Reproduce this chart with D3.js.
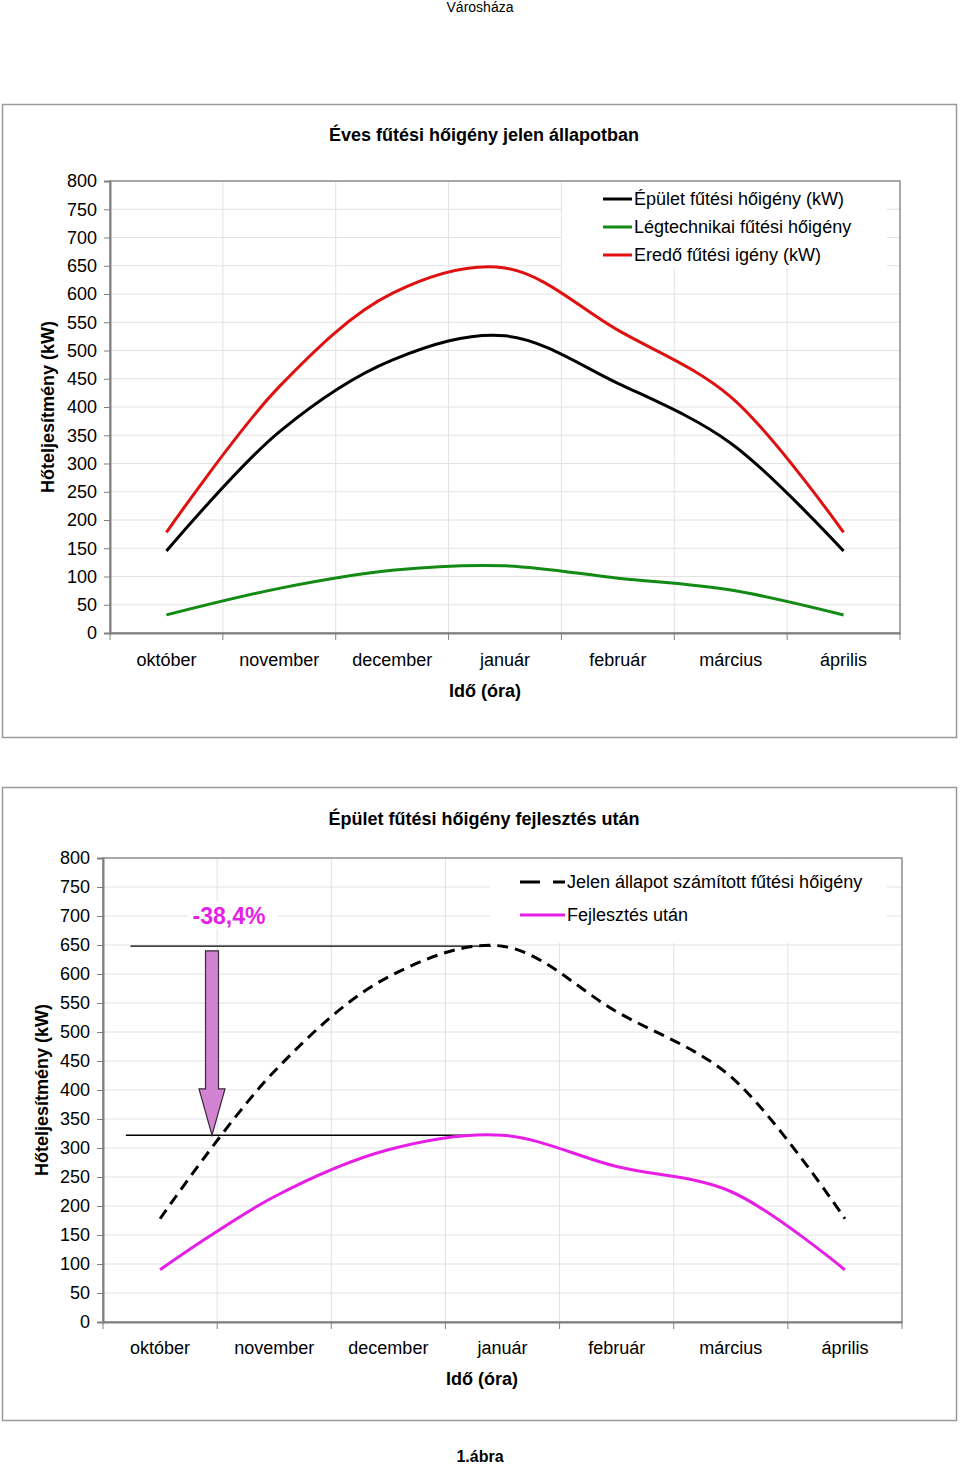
<!DOCTYPE html>
<html><head><meta charset="utf-8">
<script src="https://cdn.jsdelivr.net/npm/d3@7/dist/d3.min.js"></script>
<style>body{margin:0;background:#fff}svg{display:block;font-family:"Liberation Sans",Arial,sans-serif}</style>
</head><body>
<script>
const months = ["október","november","december","január","február","március","április"];
const yTicks = [0,50,100,150,200,250,300,350,400,450,500,550,600,650,700,750,800];
// chart 1
const epulet = [145, 356, 483, 526, 442, 336, 145];
const legtech = [32, 79, 111, 119, 97, 76, 32];
const eredo = [178, 436, 601, 646, 536, 418, 178];
// chart 2
const jelen = [178, 432, 595, 648, 535, 423, 178];
const fejlesztes = [90, 216, 297, 322, 268, 225, 90];
const refLevels = [648, 322];
const arrowVals = {top: 640, headBase: 402, tip: 322};
const reduction = "-38,4%";

const W = 960, H = 1464;
const svg = d3.select("body").append("svg").attr("width", W).attr("height", H);

svg.append("text").attr("x", 480).attr("y", 12).attr("text-anchor","middle")
  .attr("font-size", 14).text("Városháza");
svg.append("text").attr("x", 480).attr("y", 1462).attr("text-anchor","middle")
  .attr("font-size", 16).attr("font-weight","bold").text("1.ábra");

function chart(cfg){
  const g = svg.append("g");
  g.append("rect").attr("x", cfg.frame[0]+0.5).attr("y", cfg.frame[1]+0.5)
    .attr("width", cfg.frame[2]-cfg.frame[0]).attr("height", cfg.frame[3]-cfg.frame[1])
    .attr("fill","#fff").attr("stroke","#9a9a9a").attr("stroke-width",1.5);
  const L = cfg.plot[0], T = cfg.plot[1], R = cfg.plot[2], B = cfg.plot[3];
  const x = d3.scaleBand().domain(months).range([L, R]).padding(0);
  const y = d3.scaleLinear().domain([0, 800]).range([B, T]);
  const cx = m => x(m) + x.bandwidth()/2;
  const xi = v => L + (v + 0.5) * x.bandwidth();
  g.append("g").selectAll("line").data(yTicks.filter(t => t>0 && t<800)).join("line")
    .attr("x1", L).attr("x2", R).attr("y1", d=>y(d)).attr("y2", d=>y(d))
    .attr("stroke","#e2e2e2").attr("stroke-width",1);
  g.append("g").selectAll("line").data(months.slice(1)).join("line")
    .attr("x1", d=>x(d)).attr("x2", d=>x(d)).attr("y1", T).attr("y2", B)
    .attr("stroke","#e2e2e2").attr("stroke-width",1);
  cfg.boxes.forEach(b => g.append("rect").attr("x", b[0]).attr("y", b[1])
    .attr("width", b[2]-b[0]).attr("height", b[3]-b[1]).attr("fill","#fff"));
  g.append("rect").attr("x", L).attr("y", T).attr("width", R-L).attr("height", B-T)
    .attr("fill","none").attr("stroke","#8c8c8c").attr("stroke-width",1.5);
  const ya = d3.axisLeft(y).tickValues(yTicks).tickSize(6).tickPadding(7);
  const yg = g.append("g").attr("transform", `translate(${L},0)`).call(ya);
  yg.select(".domain").attr("stroke","#808080").attr("stroke-width",2);
  yg.selectAll(".tick line").attr("stroke","#808080");
  yg.selectAll("text").attr("font-size", cfg.fs).attr("fill","#000")
    .attr("font-family","Liberation Sans, Arial, sans-serif");
  const xa = d3.axisBottom(x).tickSize(0).tickPadding(cfg.xpad);
  const xg = g.append("g").attr("transform", `translate(0,${B})`).call(xa);
  xg.select(".domain").attr("stroke","#808080").attr("stroke-width",2);
  xg.selectAll("text").attr("font-size", cfg.fs).attr("fill","#000")
    .attr("font-family","Liberation Sans, Arial, sans-serif");
  g.append("g").selectAll("line").data(d3.range(months.length+1)).join("line")
    .attr("x1", d=>L + d*x.bandwidth()).attr("x2", d=>L + d*x.bandwidth())
    .attr("y1", B).attr("y2", B+7).attr("stroke","#808080").attr("stroke-width",1);
  g.append("text").attr("x", cfg.titleX).attr("y", cfg.titleY).attr("text-anchor","middle")
    .attr("font-size", 18).attr("font-weight","bold").text(cfg.title);
  g.append("text").attr("x", cfg.xtX).attr("y", cfg.xtY).attr("text-anchor","middle")
    .attr("font-size", 18).attr("font-weight","bold").text("Idő (óra)");
  g.append("text").attr("transform", `translate(${cfg.ytX},${(T+B)/2}) rotate(-90)`)
    .attr("text-anchor","middle").attr("font-size", 18).attr("font-weight","bold")
    .text("Hőteljesítmény (kW)");
  const line = d3.line().x((d,i)=>cx(months[i])).y(d=>y(d)).curve(d3.curveCatmullRom.alpha(0.5));
  cfg.extra && cfg.extra(g, x, y, xi);
  cfg.series.forEach(s => {
    g.append("path").attr("d", line(s.data)).attr("fill","none").attr("stroke", s.color)
      .attr("stroke-width", s.w).attr("stroke-dasharray", s.dash || null)
      .attr("stroke-linejoin","round");
  });
  cfg.series.forEach((s, i) => {
    const ly = cfg.leg.y + i*cfg.leg.dy;
    g.append("line").attr("x1", cfg.leg.x1).attr("x2", cfg.leg.x2).attr("y1", ly).attr("y2", ly)
      .attr("stroke", s.color).attr("stroke-width", s.w).attr("stroke-dasharray", s.dash ? "20,13" : null);
    g.append("text").attr("x", cfg.leg.x2 + 2).attr("y", ly).attr("dy","0.35em")
      .attr("font-size", cfg.fs).text(s.name);
  });
}

chart({
  frame:[2,104,956,737], plot:[110,181,900,633], fs:18, xpad:20,
  title:"Éves fűtési hőigény jelen állapotban", titleX:484, titleY:141,
  xtX:485, xtY:697, ytX:54,
  boxes:[[562,182,887,268]],
  leg:{x1:603, x2:632, y:199, dy:28},
  series:[
    {name:"Épület fűtési hőigény (kW)", data:epulet, color:"#000000", w:3},
    {name:"Légtechnikai fűtési hőigény", data:legtech, color:"#138a13", w:3},
    {name:"Eredő fűtési igény (kW)", data:eredo, color:"#e01010", w:3}
  ]
});

chart({
  frame:[2,787,956,1420], plot:[103,858,902,1322], fs:18, xpad:19,
  title:"Épület fűtési hőigény fejlesztés után", titleX:484, titleY:825,
  xtX:482, xtY:1385, ytX:48,
  boxes:[[490,859,887,943],[188,902,278,929]],
  leg:{x1:520, x2:565, y:882, dy:33},
  extra:(g, x, y, xi) => {
    g.append("line").attr("x1", xi(-0.26)).attr("x2", xi(2.9)).attr("y1", y(refLevels[0])).attr("y2", y(refLevels[0]))
      .attr("stroke","#000").attr("stroke-width",1.3);
    g.append("line").attr("x1", xi(-0.3)).attr("x2", xi(2.9)).attr("y1", y(refLevels[1])).attr("y2", y(refLevels[1]))
      .attr("stroke","#000").attr("stroke-width",1.3);
    const ax = xi(0.455), sw = 6.5, hw = 13;
    const pts = [[ax-sw, y(arrowVals.top)],[ax+sw, y(arrowVals.top)],[ax+sw, y(arrowVals.headBase)],
      [ax+hw, y(arrowVals.headBase)],[ax, y(arrowVals.tip)],[ax-hw, y(arrowVals.headBase)],[ax-sw, y(arrowVals.headBase)]];
    g.append("polygon").attr("points", pts.map(p=>p.join(",")).join(" "))
      .attr("fill","#d183d1").attr("stroke","#3a2a3a").attr("stroke-width",1.2);
    g.append("text").attr("x", 229).attr("y", y(700)).attr("dy","0.36em").attr("text-anchor","middle")
      .attr("font-size", 23).attr("font-weight","bold").attr("fill","#e61ee6").text(reduction);
  },
  series:[
    {name:"Jelen állapot számított fűtési hőigény", data:jelen, color:"#000000", w:3, dash:"11,7"},
    {name:"Fejlesztés után", data:fejlesztes, color:"#e61ee6", w:3}
  ]
});
</script>
</body></html>
